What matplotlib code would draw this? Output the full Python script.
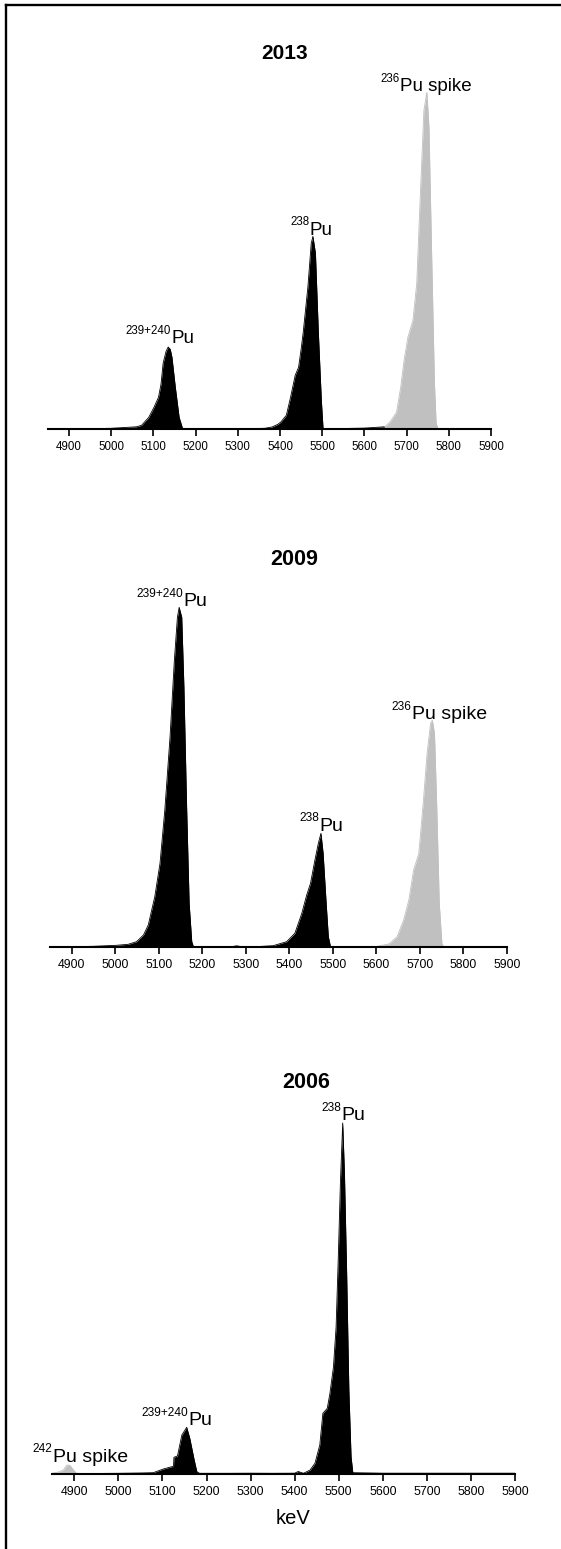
import matplotlib
matplotlib.use('Agg')
import matplotlib.pyplot as plt
from matplotlib.lines import Line2D

plt.rcParams['font.family'] = ['Liberation Sans', 'DejaVu Sans']

# alpha spectra, counts in arbitrary units
# 2013
e13_black = [4850, 4900, 4950, 5000, 5020, 5040, 5060, 5072, 5089, 5101, 5112, 5118, 5123, 5130,
             5135, 5140, 5144, 5152, 5161, 5169, 5180, 5250, 5300, 5340, 5364, 5381, 5395, 5402,
             5415, 5425, 5436, 5444, 5450, 5455, 5466, 5474, 5478, 5484, 5491, 5498, 5502, 5510,
             5550, 5600, 5630, 5648]
c13_black = [0.5, 0.5, 0.6, 1, 1.5, 2, 2.5, 4, 12, 21.7, 32, 45, 66, 78,
             82.3, 80, 72, 42, 12, 1, 0.5, 0.6, 0.8, 0.8, 1, 2.3, 5, 7.3,
             14, 32, 54, 62, 80, 97, 142, 186, 193, 176, 96, 29, 1, 0.5,
             0.8, 1.2, 2, 2.5]
e13_spike = [5648, 5660, 5676, 5686, 5694, 5703, 5715, 5724, 5732, 5741, 5748, 5753, 5760, 5766, 5770, 5775]
c13_spike = [2.5, 7, 17, 42, 69, 92, 109, 146, 229, 319, 337, 302, 162, 46, 6, 0]

# 2009
e09_black = [4850, 4900, 4950, 5003, 5030, 5049, 5065, 5076, 5091, 5103, 5114, 5126, 5136, 5143,
             5147, 5153, 5158, 5164, 5170, 5176, 5180, 5250, 5270, 5279, 5290, 5330, 5363, 5394,
             5413, 5429, 5440, 5449, 5459, 5467, 5473, 5478, 5485, 5490, 5495, 5550, 5597]
c09_black = [0.5, 0.6, 1, 2, 3, 5.6, 12.3, 22.3, 50.6, 84, 137, 210, 287, 330,
             340, 330, 260, 144, 44, 5.6, 0.6, 0.5, 0.8, 1.5, 0.7, 0.8, 1.6, 5.6,
             14, 34, 52, 64, 87, 104, 114, 94, 44, 10.6, 0.6, 0.7, 0.6]
e09_spike = [5597, 5629, 5648, 5663, 5675, 5686, 5698, 5708, 5717, 5725, 5729, 5734, 5739, 5745, 5751, 5755]
c09_spike = [0.6, 3.3, 10.6, 27.3, 47.3, 77.3, 94, 144, 194, 224, 227, 214, 144, 44, 4, 0]

# 2006
e06_spike = [4849, 4864, 4875, 4883, 4890, 4898, 4905, 4935]
c06_spike = [0.7, 2, 4, 9, 8.7, 4, 0.7, 0.5]
e06_black = [4935, 5000, 5050, 5079, 5102, 5121, 5125, 5126, 5134, 5144, 5155, 5162, 5172, 5178,
             5184, 5250, 5300, 5350, 5400, 5408, 5420, 5435, 5446, 5457, 5464, 5474, 5480, 5488,
             5494, 5499, 5504, 5509, 5513, 5518, 5523, 5528, 5532, 5600, 5700, 5800, 5900]
c06_black = [0.5, 0.7, 1, 1.3, 5, 7.3, 7.5, 16.7, 18, 39, 46.7, 35.7, 14, 2.3,
             0.7, 0.7, 0.8, 0.7, 0.8, 2.5, 0.7, 4, 10.7, 29, 60.7, 65.7, 80.7, 107,
             147, 217, 294, 351, 300.7, 200.7, 84, 17.3, 1.3, 0.8, 0.8, 0.8, 0.8]

years = ['2013', '2009', '2006']
ticks = [4900, 5000, 5100, 5200, 5300, 5400, 5500, 5600, 5700, 5800, 5900]

# peak labels: superscript, text, energy, height
labels13 = [('239+240', 'Pu', 5142, 86.3), ('238', 'Pu', 5470, 194.7), ('236', 'Pu spike', 5684, 338.3)]
labels09 = [('239+240', 'Pu', 5156.6, 341), ('238', 'Pu', 5469, 116.6), ('236', 'Pu spike', 5681.6, 228)]
labels06 = [('238', 'Pu', 5505, 354), ('239+240', 'Pu', 5158.8, 49), ('242', 'Pu spike', 4851, 12.3)]

W, H = 561, 1549
fig = plt.figure(figsize=(W / 100, H / 100), dpi=100)

# panel geometry in pixels: left, width, axis line y, height, then font sizes and title spot
panels = [
    (47.9, 443.1, 429.3, 380, 8.3, 13.5, 8.3, 15.0, 370.3, 5410),
    (49.95, 456.75, 947.3, 400, 8.8, 14.0, 8.6, 15.5, 382.3, 5411),
    (52.3, 462.7, 1474.0, 400, 8.9, 14.0, 8.6, 15.5, 385.7, 5426),
]
spectra = [
    [(e13_black, c13_black, 'black'), (e13_spike, c13_spike, '#c0c0c0')],
    [(e09_black, c09_black, 'black'), (e09_spike, c09_spike, '#c0c0c0')],
    [(e06_spike, c06_spike, '#c0c0c0'), (e06_black, c06_black, 'black')],
]
all_labels = [labels13, labels09, labels06]

for i in range(3):
    left, width, base, height, tfs, lfs, sfs, yfs, ty, tx = panels[i]
    ax = fig.add_axes([left / W, (H - base) / H, width / W, height / H])
    for e, c, col in spectra[i]:
        ax.fill_between(e, c, 0, color=col, lw=0)
        ax.plot(e, c, color=col, lw=0.6)
    ax.set_xlim(4850, 5900)
    ax.set_ylim(0, height)
    for s in ['left', 'top', 'right']:
        ax.spines[s].set_visible(False)
    ax.spines['bottom'].set_linewidth(1.5)
    ax.set_yticks([])
    ax.set_xticks(ticks)
    ax.tick_params(axis='x', direction='out', length=4.8, width=1.2, pad=3.5, labelsize=tfs)
    ax.patch.set_visible(False)

    ax.text(tx, ty, years[i], ha='center', va='baseline', fontsize=yfs, fontweight='bold')

    for sup, txt, e, h in all_labels[i]:
        ax.text(e, h, txt, ha='left', va='baseline', fontsize=lfs)
        ax.annotate(sup, xy=(e, h), xytext=(0, 6.8), textcoords='offset points',
                    ha='right', va='baseline', fontsize=sfs)

    if i == 2:
        ax.set_xlabel('keV', fontsize=14.5)
        ax.xaxis.label.set_va('baseline')
        ax.xaxis.set_label_coords((5397 - 4850) / 1050, -50 / height)

# frame (left and top edges)
fx = 6.2 / W
fy = 1 - 4.8 / H
fig.add_artist(Line2D([fx, fx], [0, fy], transform=fig.transFigure, color='black', lw=1.7,
                      solid_capstyle='projecting'))
fig.add_artist(Line2D([fx, 1], [fy, fy], transform=fig.transFigure, color='black', lw=1.7,
                      solid_capstyle='projecting'))

fig.savefig('out.png', dpi=100)
